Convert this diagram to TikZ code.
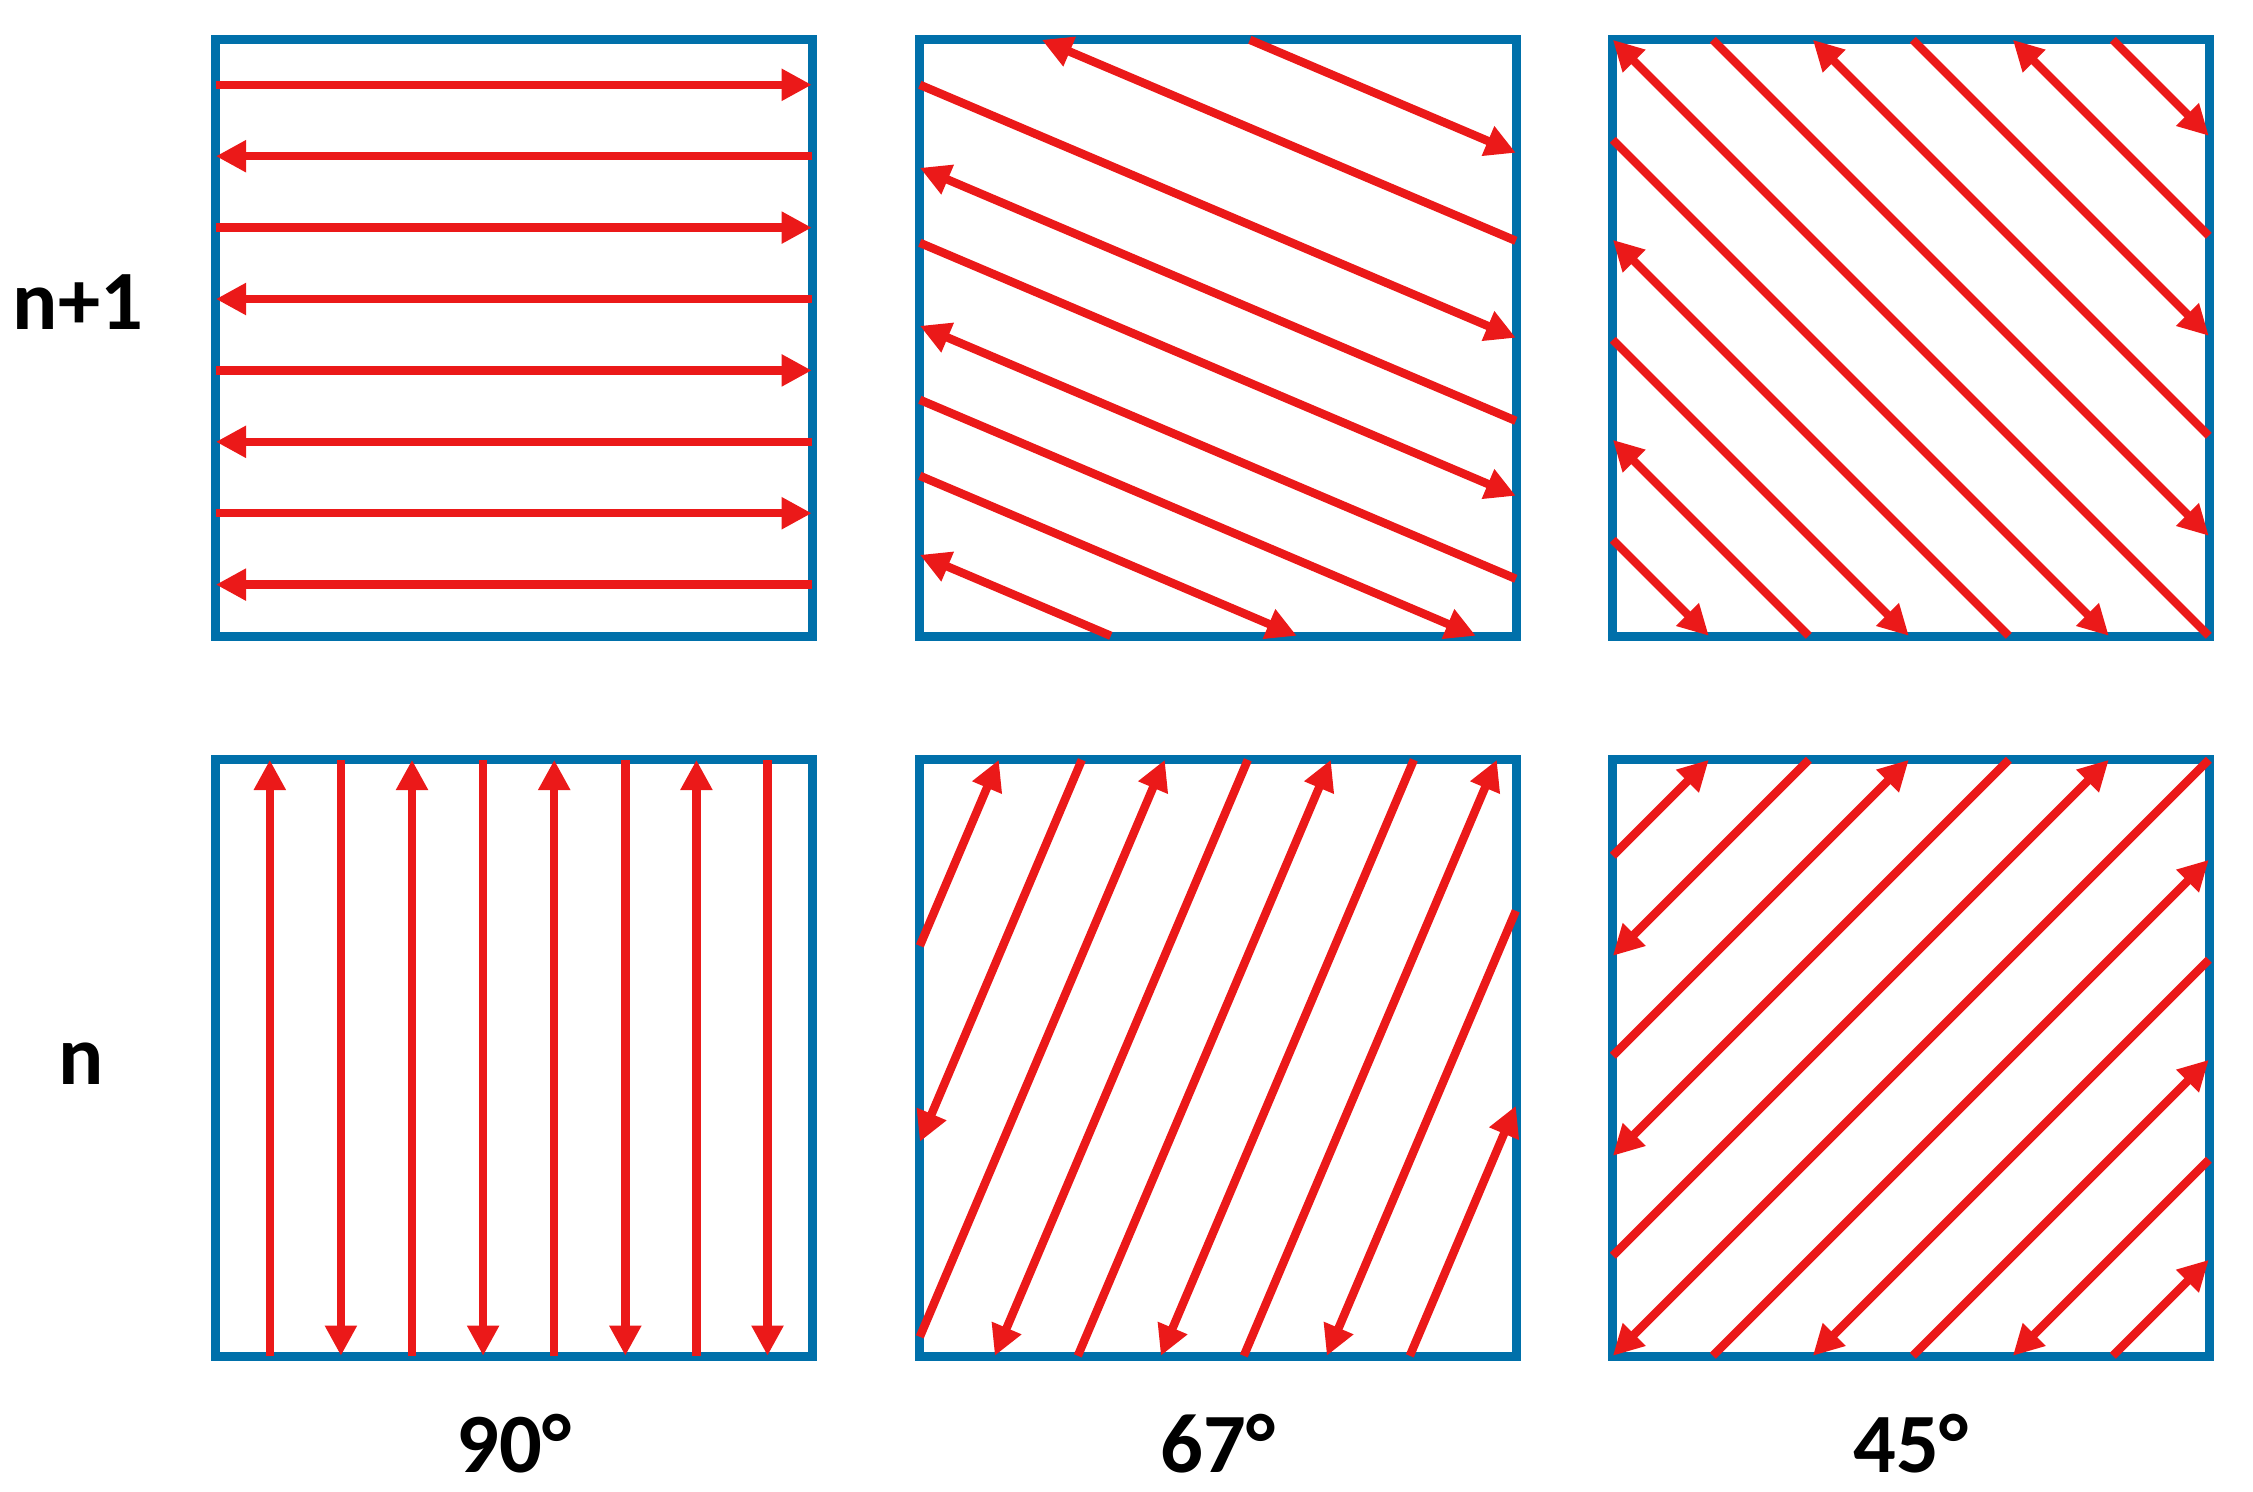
\documentclass[tikz,border=0pt]{standalone}
\usepackage{fontspec}
\setmainfont{Carlito}
\usepackage{tikz}
\usetikzlibrary{arrows.meta,positioning}

\definecolor{frameblue}{RGB}{0,112,170}
\definecolor{pathred}{RGB}{235,25,25}

\begin{document}
\begin{tikzpicture}[x=0.01cm, y=-0.01cm,
    panel/.style={draw=frameblue, line width=2.6pt, minimum size=5.96cm,
      inner sep=0pt, outer sep=0pt},
    scan/.style={draw=pathred, line width=2.4pt,
      -{Triangle[length=8.6pt, width=8.6pt]}},
    lab/.style={font=\fontsize{24}{29}\selectfont\bfseries, inner sep=0pt}]
  \useasboundingbox (0,0) rectangle (2253,1492);

  % Panels
  \node[panel] (tl) at (514,338) {};
  \node[panel] (tm) at (1218,338) {};
  \node[panel] (tr) at (1911,338) {};
  \node[panel] (bl) at (514,1058) {};
  \node[panel] (bm) at (1218,1058) {};
  \node[panel] (br) at (1911,1058) {};

  % Layer n+1, 90 degrees
  \begin{scope}[shift={(tl.north west)}]
    \foreach \k in {0,2,4,6}
      \draw[scan] (0,45+71.4*\k) -- (596,45+71.4*\k);
    \foreach \k in {1,3,5,7}
      \draw[scan] (596,45+71.4*\k) -- (0,45+71.4*\k);
  \end{scope}

  % Layer n, 90 degrees
  \begin{scope}[shift={(bl.north west)}]
    \foreach \k in {0,2,4,6}
      \draw[scan] (54+71.1*\k,596) -- (54+71.1*\k,0);
    \foreach \k in {1,3,5,7}
      \draw[scan] (54+71.1*\k,0) -- (54+71.1*\k,596);
  \end{scope}

  % Layer n+1, 67 degrees
  \begin{scope}[shift={(tm.north west)}]
    \foreach \xa/\ya/\xb/\yb in {330/0/596/113, 596/201/122/0, 0/45/596/298,
        596/381/0/128, 0/203/596/456, 596/539/0/286, 0/360/556/596,
        0/436/377/596, 191/596/0/515}
      \draw[scan] (\xa,\ya) -- (\xb,\yb);
  \end{scope}

  % Layer n, 67 degrees
  \begin{scope}[shift={(bm.north west)}]
    \foreach \xa/\ya/\xb/\yb in {0/186/79/0, 162/0/0/382, 0/577/245/0,
        328/0/75/596, 158/596/411/0, 494/0/241/596, 324/596/577/0,
        596/151/407/596, 490/596/596/346}
      \draw[scan] (\xa,\ya) -- (\xb,\yb);
  \end{scope}

  % Layer n+1, 45 degrees
  \begin{scope}[shift={(tr.north west)}]
    \foreach \xa/\ya/\xb/\yb in {500/0/596/96, 596/196/400/0, 300/0/596/296,
        596/396/200/0, 100/0/596/496, 596/596/0/0, 0/100/496/596,
        396/596/0/200, 0/300/296/596, 196/596/0/400, 0/500/96/596}
      \draw[scan] (\xa,\ya) -- (\xb,\yb);
  \end{scope}

  % Layer n, 45 degrees
  \begin{scope}[shift={(br.north west)}]
    \foreach \xa/\ya/\xb/\yb in {0/96/96/0, 196/0/0/196, 0/296/296/0,
        396/0/0/396, 0/496/496/0, 596/0/0/596, 100/596/596/100,
        596/200/200/596, 300/596/596/300, 596/400/400/596, 500/596/596/500}
      \draw[scan] (\xa,\ya) -- (\xb,\yb);
  \end{scope}

  % Labels
  \node[lab, anchor=base] (upper) at (78,330) {n+1};
  \node[lab, anchor=base] (lower) at (81,1085) {n};
  \node[lab, below=0.57cm of bl] (a90) {90°};
  \node[lab, below=0.57cm of bm] (a67) {67°};
  \node[lab, below=0.57cm of br] (a45) {45°};
\end{tikzpicture}
\end{document}
